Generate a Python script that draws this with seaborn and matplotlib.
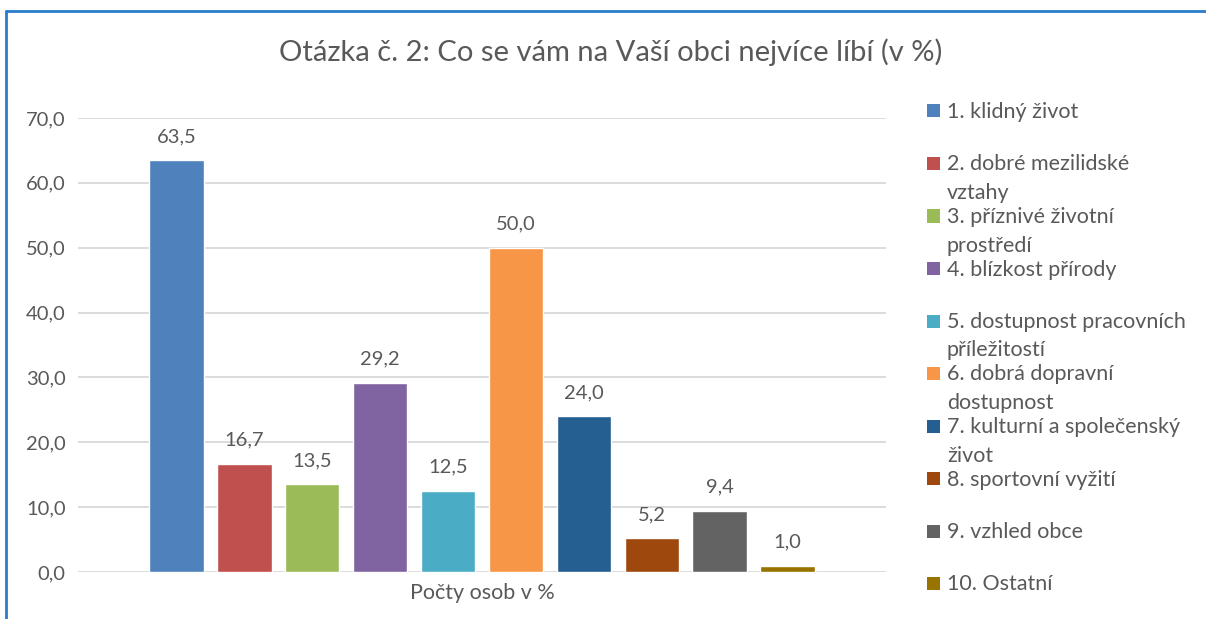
"""
Otázka č. 2: Co se vám na Vaší obci nejvíce líbí (v %)
Sloupcový graf podle reference z Excelu.
"""

import pandas as pd
import matplotlib.pyplot as plt
from matplotlib.patches import Rectangle
from matplotlib.lines import Line2D
import seaborn as sns

# data
skupina = "Počty osob v %"
kategorie = [
    "1. klidný život",
    "2. dobré mezilidské vztahy",
    "3. příznivé životní prostředí",
    "4. blízkost přírody",
    "5. dostupnost pracovních příležitostí",
    "6. dobrá dopravní dostupnost",
    "7. kulturní a společenský život",
    "8. sportovní vyžití",
    "9. vzhled obce",
    "10. Ostatní",
]
# popisky legendy zalomené jako v Excelu
legenda = [
    ["1. klidný život"],
    ["2. dobré mezilidské", "vztahy"],
    ["3. příznivé životní", "prostředí"],
    ["4. blízkost přírody"],
    ["5. dostupnost pracovních", "příležitostí"],
    ["6. dobrá dopravní", "dostupnost"],
    ["7. kulturní a společenský", "život"],
    ["8. sportovní vyžití"],
    ["9. vzhled obce"],
    ["10. Ostatní"],
]
hodnoty = [63.5, 16.7, 13.5, 29.2, 12.5, 50.0, 24.0, 5.2, 9.4, 1.0]
barvy = ["#4F81BD", "#C0504D", "#9BBB59", "#8064A2", "#4BACC6",
         "#F79646", "#255E91", "#9E480E", "#636363", "#997300"]
y_ticks = [0, 10, 20, 30, 40, 50, 60, 70]

TEXT = "#595959"
FONT = ["Lato", "DejaVu Sans"]

sns.set_theme(style="white")
plt.rcParams["font.family"] = FONT

df = pd.DataFrame({"skupina": [skupina] * len(kategorie),
                   "kategorie": kategorie,
                   "hodnota": hodnoty})

W, H = 1206, 619
fig = plt.figure(figsize=(W / 100, H / 100), dpi=100)
fig.patch.set_facecolor("white")
ax = fig.add_axes([78 / W, 1 - 572 / H, (886 - 78) / W, (572 - 118) / H])

sns.barplot(data=df, x="skupina", y="hodnota", hue="kategorie",
            hue_order=kategorie, palette=barvy, width=0.84, gap=0.2,
            saturation=1, legend=False, ax=ax)

for cont in ax.containers:
    ax.bar_label(cont, fmt=lambda v: f"{v:.1f}".replace(".", ","),
                 padding=11, fontsize=14.5, color=TEXT)

ax.set_ylim(0, 70)
ax.set_yticks(y_ticks)
ax.set_yticklabels([f"{t:.1f}".replace(".", ",") for t in y_ticks])
ax.yaxis.grid(True, color="#D9D9D9", linewidth=1.3)
ax.set_axisbelow(True)
for s in ax.spines.values():
    s.set_visible(False)
ax.tick_params(axis="y", length=0, labelsize=14.5, labelcolor=TEXT, pad=9)
ax.tick_params(axis="x", length=0, labelsize=15.5, labelcolor=TEXT, pad=8)
ax.set_xlabel("")
ax.set_ylabel("")

# nadpis
fig.text(611 / W, 1 - 52 / H,
         "Otázka č. 2: Co se vám na Vaší obci nejvíce líbí (v %)",
         ha="center", va="center", fontsize=21, color=TEXT)

# legenda vpravo
y0, krok, radek = 111, 52.5, 28.5
for i, (lines, c) in enumerate(zip(legenda, barvy)):
    yc = y0 + i * krok
    fig.add_artist(Rectangle((927 / W, 1 - (yc + 6.5) / H), 13 / W, 13 / H,
                             transform=fig.transFigure, facecolor=c,
                             edgecolor="none"))
    for j, txt in enumerate(lines):
        fig.text(947 / W, 1 - (yc + j * radek + 7) / H, txt, ha="left",
                 va="baseline", fontsize=15.5, color=TEXT)

# modrý rámeček (horní a levá hrana)
ramecek = "#2A7CCB"
fig.add_artist(Line2D([6 / W, 1], [1 - 11 / H, 1 - 11 / H],
                      transform=fig.transFigure, color=ramecek, linewidth=2))
fig.add_artist(Line2D([6 / W, 6 / W], [0, 1 - 11 / H],
                      transform=fig.transFigure, color=ramecek, linewidth=2))

fig.savefig("out.png", dpi=100)
